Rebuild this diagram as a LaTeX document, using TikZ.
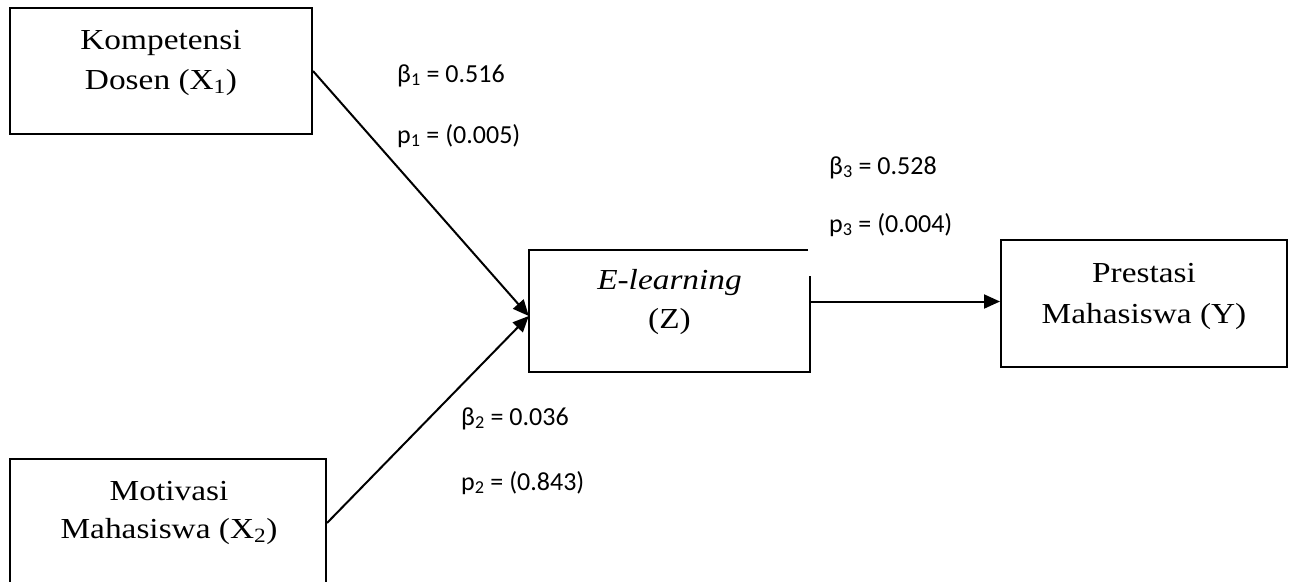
\documentclass[tikz,border=0pt]{standalone}
\usepackage{fontspec}
\usetikzlibrary{arrows.meta}
\newfontfamily\boxfont{Liberation Serif}[FakeStretch=1.15]
\newfontfamily\lblfont{Carlito}
\tikzset{
  boxline/.style={draw=black, line width=2pt},
  vbox/.style={boxline, rectangle, inner sep=0pt},
  btxt/.style={anchor=base, inner sep=0pt, font=\boxfont\fontsize{29}{34}\selectfont},
  lbl/.style={anchor=base west, inner sep=0pt, font=\lblfont\fontsize{26}{30}\selectfont},
  arr/.style={line width=2pt, -{Triangle[length=16pt,width=14pt]}}
}
\begin{document}
\begin{tikzpicture}[x=1pt,y=-1pt]
\useasboundingbox (0,0) rectangle (1292,581);
\clip (0,0) rectangle (1292,581);
% boxes
\node[vbox, minimum width=302pt, minimum height=126pt] (x1) at (161,71) {};
\node[vbox, minimum width=316pt, minimum height=128pt] (x2) at (168,523) {};
\node[rectangle, inner sep=0pt, minimum width=281pt, minimum height=122pt] (z) at (669.5,311) {};
\draw[boxline] ([xshift=-2pt]z.north east) -- (z.north west) -- (z.south west) -- (z.south east) -- ([yshift=-26pt]z.north east);
\node[vbox, minimum width=286pt, minimum height=127pt] (y) at (1144,303.5) {};
% box texts
\node[btxt] (x1a) at (161,49) {Kompetensi};
\node[btxt] (x1b) at (161,89) {Dosen (X\textsubscript{1})};
\node[btxt] (x2a) at (169,500) {Motivasi};
\node[btxt] (x2b) at (169,538) {Mahasiswa (X\textsubscript{2})};
\node[btxt] (za) at (669.5,289) {\itshape E-learning};
\node[btxt] (zb) at (669.5,328) {(Z)};
\node[btxt] (ya) at (1144,282) {Prestasi};
\node[btxt] (yb) at (1144,323) {Mahasiswa (Y)};
% connectors
\coordinate (zin) at ([yshift=-5pt]z.west);
\draw[arr] (x1.east) -- (zin);
\draw[arr] (x2.east) -- (zin);
\draw[arr] ([yshift=2pt]z.east |- y.west) -- ([yshift=2pt]y.west);
% labels
\node[lbl] (b1) at (397,82) {β\textsubscript{1} = 0.516};
\node[lbl] (p1) at (397,143) {p\textsubscript{1} = (0.005)};
\node[lbl] (b3) at (829,174) {β\textsubscript{3} = 0.528};
\node[lbl] (p3) at (829,232) {p\textsubscript{3} = (0.004)};
\node[lbl] (b2) at (461,425) {β\textsubscript{2} = 0.036};
\node[lbl] (p2) at (461,490) {p\textsubscript{2} = (0.843)};
\end{tikzpicture}
\end{document}
